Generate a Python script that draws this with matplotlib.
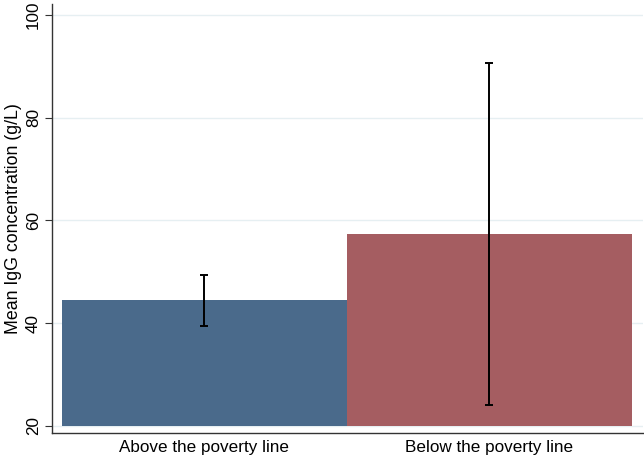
import matplotlib
matplotlib.use("Agg")
import matplotlib.pyplot as plt

categories = ["Above the poverty line", "Below the poverty line"]
means = [44.4, 57.3]
ci_low = [39.5, 24.0]
ci_high = [49.4, 90.6]
colors = ["#4a6a8b", "#a55d61"]
yticks = [20, 40, 60, 80, 100]

plt.rcParams['font.family'] = ['Liberation Sans', 'DejaVu Sans']

fig = plt.figure(figsize=(6.44, 4.61), dpi=100)
ax = fig.add_axes([52/644, 1-433/461, (643-52)/644, (433-4)/461])

base = 20
x = list(range(len(categories)))
heights = [m - base for m in means]
ax.bar(x, heights, bottom=base, width=1.0, color=colors, zorder=2)
yerr = [[m - l for m, l in zip(means, ci_low)], [h - m for m, h in zip(means, ci_high)]]
ax.errorbar(x, means, yerr=yerr, fmt='none', ecolor='black', elinewidth=1.4,
            capsize=2.9, capthick=1.4, zorder=3)

ax.set_ylim(18.6, 102.1)
ax.set_xlim(-0.535, 1.539)
ax.set_yticks(yticks)
ax.set_yticklabels([str(t) for t in yticks], rotation=90, va='center', fontsize=12.3)
ax.set_xticks(x)
ax.set_xticklabels(categories, fontsize=12.3)
ax.tick_params(axis='x', length=0, pad=5)
ax.tick_params(axis='y', length=5, width=0.8, color='#333333', pad=3)
ax.yaxis.grid(True, color='#e6eff2', linewidth=1.0, zorder=0)
ax.set_axisbelow(True)
ax.set_ylabel("Mean IgG concentration (g/L)", fontsize=12.8, labelpad=3)
for s in ['top', 'right']:
    ax.spines[s].set_visible(False)
for s in ['left', 'bottom']:
    ax.spines[s].set_color('#333333')
    ax.spines[s].set_linewidth(1.0)

fig.savefig("out.png", dpi=100)
